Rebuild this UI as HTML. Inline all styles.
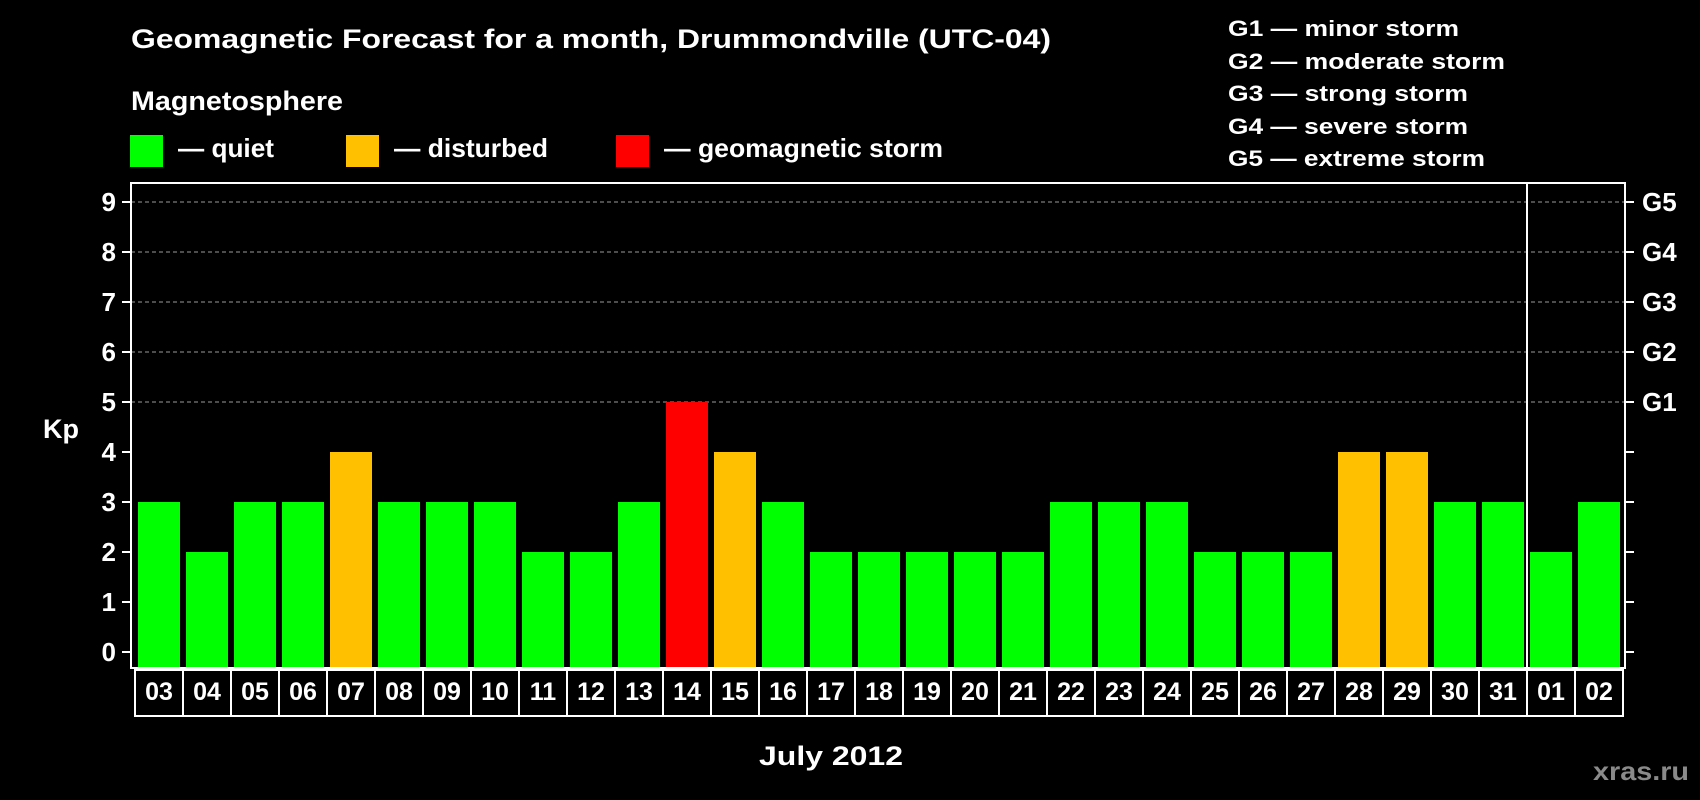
<!DOCTYPE html>
<html><head><meta charset="utf-8"><style>
html,body{margin:0;padding:0;background:#000;width:1700px;height:800px;overflow:hidden}
svg{display:block}
text{font-family:"Liberation Sans",Arial,sans-serif;font-weight:bold;fill:#fff}
</style></head><body>
<svg id="chart" width="1700" height="800" viewBox="0 0 1700 800">
<text x="131" y="48" font-size="27" textLength="920" lengthAdjust="spacingAndGlyphs">Geomagnetic Forecast for a month, Drummondville (UTC-04)</text>
<text x="131" y="110" font-size="27" textLength="212" lengthAdjust="spacingAndGlyphs">Magnetosphere</text>
<g>
<rect x="130" y="135" width="33" height="32" fill="#00ff00"/>
<text x="178" y="157" font-size="26" textLength="96" lengthAdjust="spacingAndGlyphs">— quiet</text></g>
<g>
<rect x="346" y="135" width="33" height="32" fill="#ffc000"/>
<text x="394" y="157" font-size="26" textLength="154" lengthAdjust="spacingAndGlyphs">— disturbed</text></g>
<g>
<rect x="616" y="135" width="33" height="32" fill="#ff0000"/>
<text x="664" y="157" font-size="26" textLength="279" lengthAdjust="spacingAndGlyphs">— geomagnetic storm</text></g>
<g font-size="22">
<text x="1228" y="36" textLength="231" lengthAdjust="spacingAndGlyphs">G1 — minor storm</text>
<text x="1228" y="69" textLength="277" lengthAdjust="spacingAndGlyphs">G2 — moderate storm</text>
<text x="1228" y="101" textLength="240" lengthAdjust="spacingAndGlyphs">G3 — strong storm</text>
<text x="1228" y="134" textLength="240" lengthAdjust="spacingAndGlyphs">G4 — severe storm</text>
<text x="1228" y="166" textLength="257" lengthAdjust="spacingAndGlyphs">G5 — extreme storm</text>
</g>
<text x="43" y="438" font-size="27">Kp</text>
<text x="759" y="765" font-size="27" textLength="144" lengthAdjust="spacingAndGlyphs">July 2012</text>
<text x="1593" y="780" font-size="26" textLength="96" lengthAdjust="spacingAndGlyphs" style="fill:#8a8a8a">xras.ru</text>
<g id="plot"></g>
</svg>
<script>
const days = ["03","04","05","06","07","08","09","10","11","12","13","14","15","16","17","18","19","20","21","22","23","24","25","26","27","28","29","30","31","01","02"];
const kpValues = [3,2,3,3,4,3,3,3,2,2,3,5,4,3,2,2,2,2,2,3,3,3,2,2,2,4,4,3,3,2,3];
const yTicks = [0,1,2,3,4,5,6,7,8,9];
const gLabels = ["G1","G2","G3","G4","G5"];
const gLevels = [5,6,7,8,9];
const monthBreakIndex = 29;

const NS = "http://www.w3.org/2000/svg";
const plotG = document.getElementById("plot");
const pLeft = 131, pRight = 1625, pTop = 183, pBottom = 668;
const x0 = 135, step = 48, barW = 42;
function yScale(v){ return 652 - v * 50; }
function xScale(i){ return x0 + i * step; }
function mk(tag, attrs){ const e = document.createElementNS(NS, tag); for (const k in attrs) e.setAttribute(k, attrs[k]); plotG.appendChild(e); return e; }
function color(v){ return v >= 5 ? "#ff0000" : (v >= 4 ? "#ffc000" : "#00ff00"); }

gLevels.forEach(function(v){
  const g = mk("line", {x1:pLeft, x2:pRight, y1:yScale(v), y2:yScale(v), stroke:"#9a9a9a", "stroke-width":1, "stroke-dasharray":"4 3"});
  
  
});
kpValues.forEach(function(v, i){
  const b = mk("rect", {x:xScale(i)+3, y:yScale(v), width:barW, height:pBottom - yScale(v), fill:color(v)});
  
  
});
const fr = mk("rect", {x:pLeft, y:pTop, width:pRight-pLeft, height:pBottom-pTop, fill:"none", stroke:"#fff", "stroke-width":2});


const sepX = xScale(monthBreakIndex);
const sep = mk("line", {x1:sepX, x2:sepX, y1:pTop, y2:pBottom, stroke:"#fff", "stroke-width":2});


yTicks.forEach(function(v){
  const t = mk("line", {x1:122, x2:pLeft, y1:yScale(v), y2:yScale(v), stroke:"#fff", "stroke-width":2});
  
  
  const r = mk("line", {x1:pRight, x2:1634, y1:yScale(v), y2:yScale(v), stroke:"#fff", "stroke-width":2});
  
  
  const l = mk("text", {x:116, y:yScale(v)+9, "font-size":26, "text-anchor":"end"});
  l.textContent = v;
  
  
});
gLabels.forEach(function(g, i){
  const l = mk("text", {x:1642, y:yScale(gLevels[i])+9, "font-size":26});
  l.textContent = g;
  
  
});
days.forEach(function(d, i){
  const c = mk("rect", {x:xScale(i), y:670, width:step, height:46, fill:"none", stroke:"#fff", "stroke-width":2});
  
  
  const t = mk("text", {x:xScale(i)+step/2, y:700, "font-size":25, "text-anchor":"middle"});
  t.textContent = d;
  
  
});
</script>
</body></html>
